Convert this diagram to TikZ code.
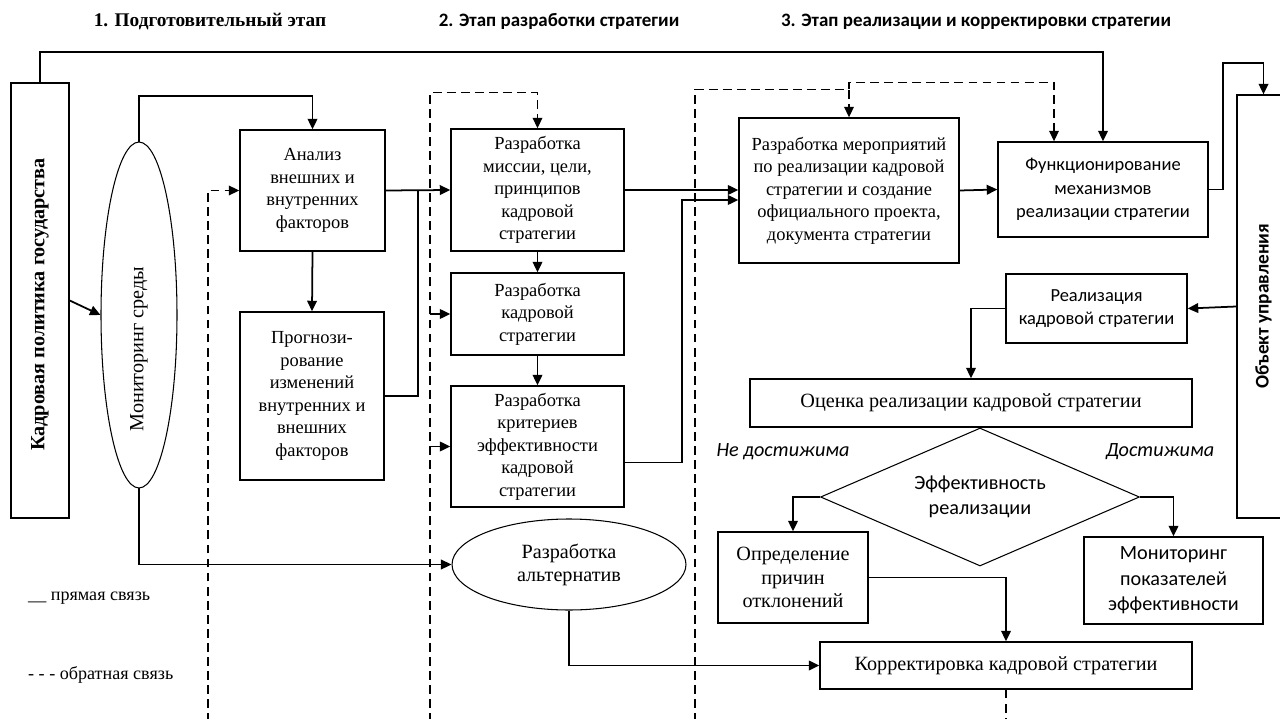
\documentclass[tikz,border=0pt]{standalone}
\usepackage{fontspec}
\setmainfont{Liberation Serif}
\newfontfamily\calibri{Carlito}
\usetikzlibrary{shapes.geometric,arrows.meta,calc}

\begin{document}
\begin{tikzpicture}[x=0.02cm, y=-0.02cm,
    >={Triangle[length=6pt,width=5.5pt]},
    box/.style={draw, line width=0.8pt, align=center, inner sep=1pt,
      font=\fontsize{10.5}{12.8}\selectfont},
    sbox/.style={box, font=\calibri\fontsize{10.5}{13.5}\selectfont},
    link/.style={line width=1pt},
    back/.style={line width=0.8pt, dash pattern=on 5pt off 3pt}]

    \useasboundingbox (0,0) rectangle (1280,719);
    \clip (0,0) rectangle (1280,719);

    % Stage headers
    \node[anchor=base, font=\bfseries\fontsize{11}{12}\selectfont] (stage1) at (210,27) {1. Подготовительный этап};
    \node[anchor=base, font=\calibri\bfseries\fontsize{10.8}{12}\selectfont] (stage2) at (559,27) {2. Этап разработки стратегии};
    \node[anchor=base, font=\calibri\bfseries\fontsize{10.8}{12}\selectfont] (stage3) at (976,27) {3. Этап реализации и корректировки стратегии};

    % Stage 1
    \node[draw, line width=0.8pt, minimum width=1.16cm, minimum height=8.7cm] (kadr) at (40,300.5) {};
    \node[rotate=90, font=\bfseries\fontsize{11.5}{13}\selectfont] (kadrtxt) at ($(kadr.center)+(0,4)$) {Кадровая политика государства};
    \node[draw, ellipse, line width=0.6pt, minimum width=1.52cm, minimum height=6.92cm] (monit) at (139,315) {};
    \node[rotate=90, font=\fontsize{11.5}{13}\selectfont] (monittxt) at ($(monit.center)+(0,34)$) {Мониторинг среды};
    \node[box, minimum width=2.9cm, minimum height=2.42cm] (analiz) at (312.5,190.5) {Анализ\\внешних и\\внутренних\\факторов};
    \node[box, minimum width=2.88cm, minimum height=3.36cm] (prognoz) at (312,396) {Прогнози-\\рование\\изменений\\внутренних и\\внешних\\факторов};

    % Stage 2
    \node[box, minimum width=3.46cm, minimum height=2.44cm] (missii) at (537.5,190) {Разработка\\миссии, цели,\\принципов\\кадровой\\стратегии};
    \node[box, minimum width=3.46cm, minimum height=1.64cm] (kadrstr) at (537.5,314) {Разработка\\кадровой\\стратегии};
    \node[box, minimum width=3.46cm, minimum height=2.42cm] (krit) at (537.5,446.5) {Разработка\\критериев\\эффективности\\кадровой\\стратегии};
    \node[draw, ellipse, line width=0.6pt, align=center, minimum width=4.68cm, minimum height=1.82cm,
      font=\fontsize{11.5}{13}\selectfont] (altern) at (569,564.5) {Разработка\\альтернатив};

    % Stage 3
    \node[box, minimum width=4.4cm, minimum height=2.9cm] (merop) at (849,190.5) {Разработка мероприятий\\по реализации кадровой\\стратегии и создание\\официального проекта,\\документа стратегии};
    \node[sbox, minimum width=4.2cm, minimum height=1.9cm] (funk) at (1103,189.5) {Функционирование\\механизмов\\реализации стратегии};
    \node[draw, line width=0.8pt, minimum width=1.06cm, minimum height=8.46cm] (obj) at (1263.5,306.5) {};
    \node[rotate=90, font=\calibri\bfseries\fontsize{11}{13}\selectfont] (objtxt) at (obj.center) {Объект управления};
    \node[sbox, minimum width=3.62cm, minimum height=1.38cm] (realiz) at (1096.5,308.5) {Реализация\\кадровой стратегии};
    \node[box, minimum width=8.84cm, minimum height=0.96cm, font=\fontsize{11.5}{13}\selectfont] (ocenka) at (971,403) {Оценка реализации кадровой стратегии};
    \node[draw, diamond, line width=0.6pt, align=center, inner sep=0pt, aspect=2.3, minimum width=6.38cm, minimum height=2.76cm,
      font=\calibri\fontsize{11.5}{14}\selectfont] (effekt) at (980,497) {Эффективность\\реализации};
    \node[box, minimum width=3cm, minimum height=1.82cm, font=\fontsize{11.5}{13.5}\selectfont] (opred) at (793,577.5) {Определение\\причин\\отклонений};
    \node[sbox, minimum width=3.58cm, minimum height=1.74cm, font=\calibri\fontsize{11.5}{14.5}\selectfont] (monpok) at (1173.5,580.5) {Мониторинг\\показателей\\эффективности};
    \node[box, minimum width=7.44cm, minimum height=0.94cm, font=\fontsize{11.5}{13}\selectfont] (korr) at (1006,665.5) {Корректировка кадровой стратегии};

    % Branch labels
    \node[font=\calibri\itshape\fontsize{11.5}{13}\selectfont] (nedost) at (783,452) {Не достижима};
    \node[font=\calibri\itshape\fontsize{11.5}{13}\selectfont] (dost) at (1160,452) {Достижима};

    % Legend
    \node[anchor=west, font=\fontsize{10.3}{11}\selectfont] (legpr) at (22,598) {\_\_ прямая связь};
    \node[anchor=west, font=\fontsize{10.3}{11}\selectfont] (legob) at (22,675) {- - - обратная связь};

    % Direct links
    \coordinate (topline) at (0,52);
    \draw[link,->] (kadr.north) |- (topline -| funk.north) -- (funk.north);
    \draw[link,->] (kadr.east) -- (monit.west);
    \draw[link,->] (monit.north) |- ($(analiz.north)+(0,-33)$) -- (analiz.north);
    \draw[link,->] (analiz.south) -- (prognoz.north);
    \draw[link,->] (analiz.east) -- (missii.west);
    \coordinate (join1) at (418,190.5);
    \draw[link] (prognoz.east) -| (join1);
    \draw[link,->] (missii.east) -- (missii.east -| merop.west);
    \draw[link,->] (missii.south) -- (kadrstr.north);
    \draw[link,->] (kadrstr.south) -- (krit.north);
    \coordinate (join2) at (682,200);
    \draw[link,->] ($(krit.east)+(0,16)$) -| (join2) -- (join2 -| merop.west);
    \draw[link,->] (merop.east) -- (funk.west);
    \draw[link,->] (funk.east) -- ++(14,0) |- ($(obj.north)+(0,-31)$) -- (obj.north);
    \draw[link,->] (obj.west) -- (realiz.east);
    \draw[link,->] (realiz.west) -| (ocenka.north);
    \draw[link,->] (effekt.west) -| (opred.north);
    \draw[link,->] (effekt.east) -| (monpok.north);
    \draw[link,->] (opred.east) -| (korr.north);
    \draw[link,->] (monit.south) |- (altern.west);
    \draw[link,->] (altern.south) |- (korr.west);

    % Feedback links
    \coordinate (fb1) at (208,722);
    \coordinate (fb2) at (430,722);
    \coordinate (fb3) at (695,722);
    \coordinate (fb4) at (1006,722);
    \draw[back,->] (fb1) |- (analiz.west);
    \draw[back,->] (fb2) |- ($(missii.north)+(0,-36)$) -- (missii.north);
    \draw[link,->] (fb2 |- kadrstr.west) -- (kadrstr.west);
    \draw[link,->] (fb2 |- krit.west) -- (krit.west);
    \draw[back,->] (fb3) |- ($(merop.north)+(0,-28)$) -- (merop.north);
    \draw[back,->] ($(merop.north)+(0,-28)$) |- ($(funk.north)+(-49,-59)$) -- ($(funk.north)+(-49,0)$);
    \draw[back] (korr.south) -- (fb4);
\end{tikzpicture}
\end{document}
